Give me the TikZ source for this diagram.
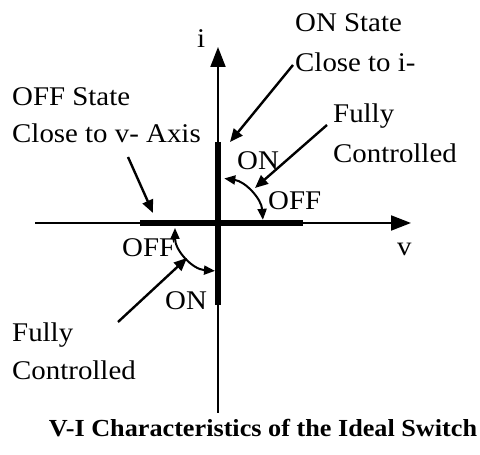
\documentclass[tikz,border=0pt]{standalone}
\usepackage{fontspec}
\setmainfont[FakeStretch=1.07]{Liberation Serif}
\usetikzlibrary{arrows.meta,calc}
\begin{document}
\begin{tikzpicture}[x=1pt,y=1pt,
  lbl/.style={anchor=base west,inner sep=0pt,font=\fontsize{27}{32}\selectfont},
  axis/.style={line width=2pt,-{Triangle[length=20pt,width=15pt]}},
  heavy/.style={line width=6pt},
  pointer/.style={line width=2.4pt,-{Triangle[length=13pt,width=11pt]}},
  swing/.style={line width=2pt,{Triangle[length=11pt,width=9pt]}-{Triangle[length=11pt,width=9pt]}}]
\useasboundingbox (0,0) rectangle (480,455);
% axes
\coordinate (vbot) at (218,42);
\coordinate (vtop) at (218,408);
\coordinate (hleft) at (35,232);
\coordinate (hright) at (411,232);
\draw[axis] (vbot) -- (vtop);
\draw[axis] (hleft) -- (hright);
% thick segments
\coordinate (t1) at (218,313);
\coordinate (t2) at (218,150);
\coordinate (t3) at (140,232);
\coordinate (t4) at (303,232);
\draw[heavy] (t1) -- (t2);
\draw[heavy] (t3) -- (t4);
% arcs
\coordinate (c1) at (218,232);
\coordinate (c2) at (218,227);
\draw[swing] ($(c1)+(4:45)$) coordinate (a1) arc[start angle=4,end angle=82,radius=45];
\draw[swing] ($(c2)+(180:43)$) coordinate (a2) arc[start angle=180,end angle=266,radius=43];
% labels
\node[lbl] (li) at (197,407) {i};
\node[lbl] (lv) at (397,199) {v};
\node[lbl] (ons1) at (295,423) {ON State};
\node[lbl] (ons2) at (295,383) {Close to i-};
\node[lbl] (fc1) at (333,332) {Fully};
\node[lbl] (fc2) at (333,292) {Controlled};
\node[lbl] (offs1) at (12,349) {OFF State};
\node[lbl] (offs2) at (12,312) {Close to v- Axis};
\node[lbl] (on1) at (237,285) {ON};
\node[lbl] (off1) at (268,245) {OFF};
\node[lbl] (off2) at (122,198) {OFF};
\node[lbl] (on2) at (165,145) {ON};
\node[lbl] (fd1) at (12,113) {Fully};
\node[lbl] (fd2) at (12,75) {Controlled};
\node[anchor=base,inner sep=0pt,font=\bfseries\fontsize{24.5}{29}\selectfont] (title) at (263,18) {V-I Characteristics of the Ideal Switch};
% pointer arrows
\coordinate (p1s) at (293,390);
\coordinate (p1e) at (230,313);
\coordinate (p2s) at (327,330);
\coordinate (p2e) at (255,267);
\coordinate (p3s) at (128,298);
\coordinate (p3e) at (153,242);
\coordinate (p4s) at (118,133);
\coordinate (p4e) at (187,197);
\draw[pointer] (p1s) -- (p1e);
\draw[pointer] (p2s) -- (p2e);
\draw[pointer] (p3s) -- (p3e);
\draw[pointer] (p4s) -- (p4e);
\end{tikzpicture}
\end{document}
